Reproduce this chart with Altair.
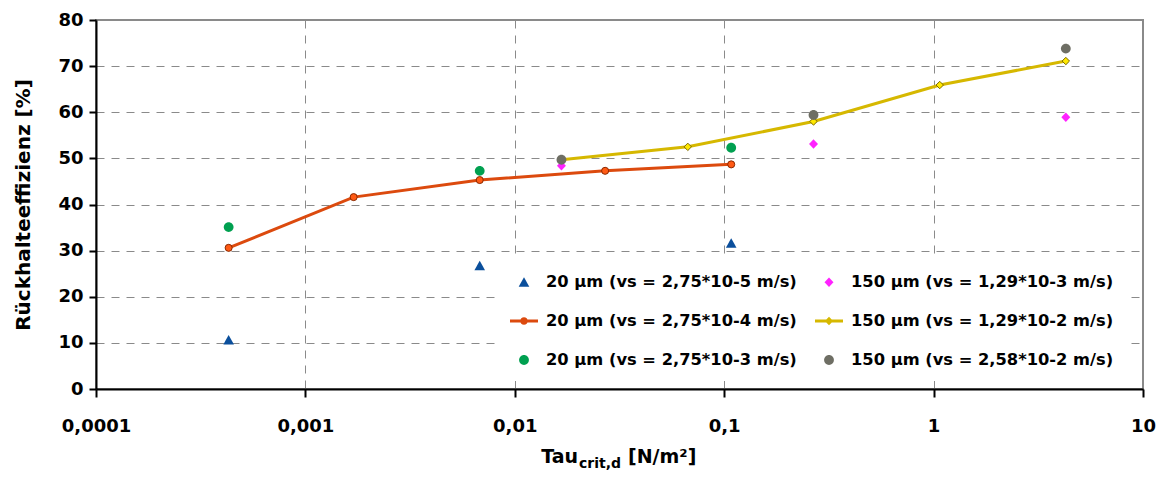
import altair as alt
import pandas as pd

S1 = "20 µm (vs = 2,75*10-5 m/s)"
S2 = "20 µm (vs = 2,75*10-4 m/s)"
S3 = "20 µm (vs = 2,75*10-3 m/s)"
S4 = "150 µm (vs = 1,29*10-3 m/s)"
S5 = "150 µm (vs = 1,29*10-2 m/s)"
S6 = "150 µm (vs = 2,58*10-2 m/s)"

tau_20 = [0.00043, 0.0017, 0.0068, 0.027, 0.108]
tau_20_sparse = [0.00043, 0.0068, 0.108]
tau_150 = [0.0167, 0.067, 0.267, 1.07, 4.28]
tau_150_sparse = [0.0167, 0.267, 4.28]

eff_s1 = [10.6, 26.7, 31.6]
eff_s2 = [30.6, 41.6, 45.3, 47.3, 48.7]
eff_s3 = [35.1, 47.3, 52.3]
eff_s4 = [48.4, 53.1, 58.9]
eff_s5 = [49.7, 52.5, 58.0, 65.9, 71.1]
eff_s6 = [49.7, 59.4, 73.8]

x_ticks = [0.0001, 0.001, 0.01, 0.1, 1, 10]
y_ticks = [0, 10, 20, 30, 40, 50, 60, 70, 80]

legend_order = [S1, S2, S3, S4, S5, S6]
legend_colors = ["#0b4f9c", "#dc4a0e", "#00a050", "#ff22ff", "#d6b800", "#6e6e64"]
TRI = "M0,-0.36L0.38,0.32L-0.38,0.32Z"
DIA = "M0,-0.34L0.32,0L0,0.34L-0.32,0Z"
CIR = "M-0.35,0A0.35,0.35 0 1,1 0.35,0A0.35,0.35 0 1,1 -0.35,0Z"
LINE_CIR = "M-1,-0.1H1V0.1H-1Z M-0.27,0A0.27,0.27 0 1,1 0.27,0A0.27,0.27 0 1,1 -0.27,0Z"
LINE_DIA = "M-1,-0.1H1V0.1H-1Z M0,-0.3L0.3,0L0,0.3L-0.3,0Z"
legend_shapes = [TRI, LINE_CIR, CIR, DIA, LINE_DIA, CIR]

FONT = "DejaVu Sans"

def frame(taus, effs, name):
    return pd.DataFrame({"tau": taus, "eff": effs, "series": [name] * len(taus)})

df_s2 = frame(tau_20, eff_s2, S2)
df_s5 = frame(tau_150, eff_s5, S5)
df_sc = pd.concat([
    frame(tau_20_sparse, eff_s1, S1),
    frame(tau_20_sparse, eff_s3, S3),
    frame(tau_150_sparse, eff_s4, S4),
    frame(tau_150_sparse, eff_s6, S6),
], ignore_index=True)

xscale = alt.Scale(type="log", domain=[0.0001, 10], nice=False)
yscale = alt.Scale(domain=[0, 80], nice=False)

xaxis = alt.Axis(values=x_ticks, title=None, labelExpr="replace(toString(datum.value), '.', ',')",
                 labelFlush=False, labelPadding=20, tickSize=8, grid=True)
yaxis = alt.Axis(values=y_ticks, title="Rückhalteeffizienz [%]", titleX=-73, titleY=184.5,
                 titleAngle=270, titleAlign="center", titleBaseline="middle",
                 tickSize=7, labelPadding=6, grid=True)

X = alt.X("tau:Q", scale=xscale, axis=xaxis)
Y = alt.Y("eff:Q", scale=yscale, axis=yaxis)

legend = alt.Legend(title=None, orient="none", legendX=402, legendY=236, columns=2, padding=12,
                    fillColor="white", symbolSize=784, symbolStrokeWidth=0, symbolOpacity=1,
                    labelFont=FONT, labelFontWeight="bold", labelFontSize=16.3, labelColor="black",
                    labelLimit=500, labelOffset=8, rowPadding=16, columnPadding=18)

line_o = alt.Chart(df_s2).mark_line(color="#dc4a0e", strokeWidth=3).encode(x=X, y=Y)
line_y = alt.Chart(df_s5).mark_line(color="#d6b800", strokeWidth=3).encode(x=X, y=Y)
mk_o = alt.Chart(df_s2).mark_point(shape="circle", filled=True, size=50, opacity=1,
                                   fill="#ff5a14", stroke="#8a2800", strokeWidth=1).encode(x=X, y=Y)
mk_y = alt.Chart(df_s5).mark_point(shape="diamond", filled=True, size=55, opacity=1,
                                   fill="#ffe800", stroke="#7a6800", strokeWidth=1).encode(x=X, y=Y)
scatter = alt.Chart(df_sc).mark_point(filled=True, size=784, opacity=1, strokeWidth=0).encode(
    x=X, y=Y,
    color=alt.Color("series:N", scale=alt.Scale(domain=legend_order, range=legend_colors), legend=legend),
    shape=alt.Shape("series:N", scale=alt.Scale(domain=legend_order, range=legend_shapes), legend=legend),
)

t1 = alt.Chart(pd.DataFrame({"t": ["Tau"]})).mark_text(
    font=FONT, fontWeight="bold", fontSize=19, align="right", baseline="alphabetic", color="black"
).encode(text="t:N", x=alt.value(482), y=alt.value(443))
t2 = alt.Chart(pd.DataFrame({"t": ["crit,d"]})).mark_text(
    font=FONT, fontWeight="bold", fontSize=14, align="left", baseline="alphabetic", color="black"
).encode(text="t:N", x=alt.value(483), y=alt.value(448))
t3 = alt.Chart(pd.DataFrame({"t": ["[N/m²]"]})).mark_text(
    font=FONT, fontWeight="bold", fontSize=19, align="left", baseline="alphabetic", color="black"
).encode(text="t:N", x=alt.value(532), y=alt.value(443))

chart = alt.layer(line_o, line_y, mk_o, mk_y, scatter, t1, t2, t3).properties(
    width=1047, height=369,
    autosize=alt.AutoSizeParams(type="none"),
    padding={"left": 96, "top": 20, "right": 19, "bottom": 89},
    background="white",
).configure_view(stroke="#8a8a8a", strokeWidth=2).configure_axis(
    domainColor="black", domainWidth=2, tickColor="black", tickWidth=2,
    gridColor="#8a8a8a", gridDash=[8, 7], gridWidth=1,
    labelFont=FONT, labelFontWeight="bold", labelFontSize=18, labelColor="black",
    titleFont=FONT, titleFontWeight="bold", titleFontSize=20, titleColor="black",
)

chart.save("out.html", embed_options={"renderer": "svg", "actions": False})
